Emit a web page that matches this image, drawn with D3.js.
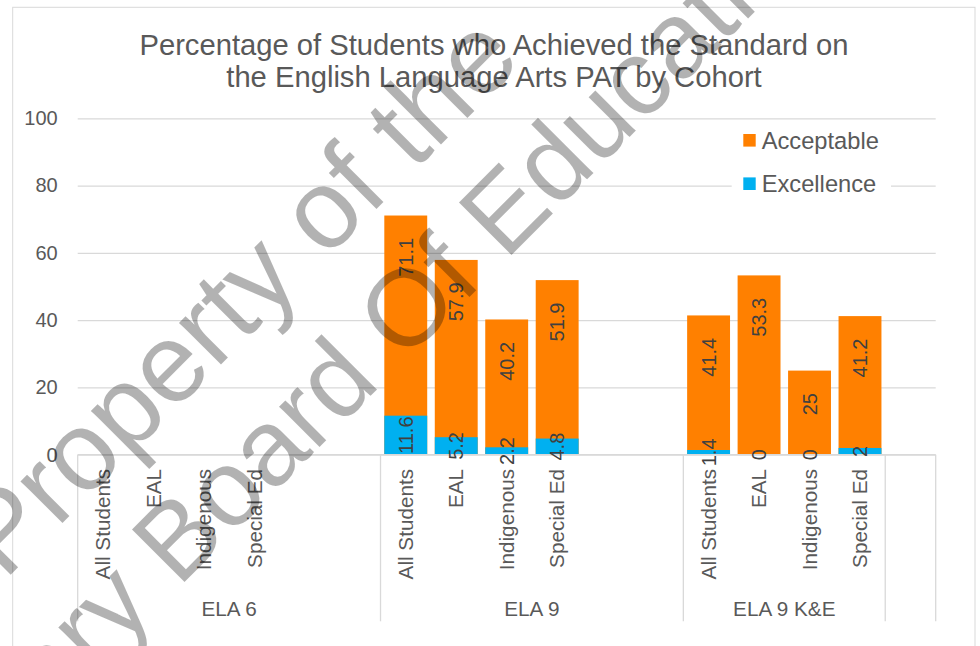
<!DOCTYPE html>
<html>
<head>
<meta charset="utf-8">
<script src="https://cdn.jsdelivr.net/npm/d3@7"></script>
<style>
  html, body { margin: 0; padding: 0; background: #fff; }
  svg { display: block; font-family: 'Liberation Sans', Arial, sans-serif; }
</style>
</head>
<body>
<div id="chart"></div>
<script>
const titleLines = ['Percentage of Students who Achieved the Standard on', 'the English Language Arts PAT by Cohort'];
const groups = ['ELA 6', 'ELA 9', 'ELA 9 K&E', ''];
const groupSizes = [6, 6, 4, 1];
const subLabels = [
  'All Students', 'EAL', 'Indigenous', 'Special Ed', '', '',
  'All Students', 'EAL', 'Indigenous', 'Special Ed', '', '',
  'All Students', 'EAL', 'Indigenous', 'Special Ed',
  ''
];
const acceptable = [
  null, null, null, null, null, null,
  71.1, 57.9, 40.2, 51.9, null, null,
  41.4, 53.3, 25, 41.2,
  null
];
const excellence = [
  null, null, null, null, null, null,
  11.6, 5.2, 2.2, 4.8, null, null,
  1.4, 0, 0, 2,
  null
];
const yTicks = [0, 20, 40, 60, 80, 100];
const seriesNames = ['Acceptable', 'Excellence'];
const seriesColors = ['#FF8000', '#00B0F0'];
const watermarkLines = ['Property of the', 'Calgary Board Of Education'];

const w = 980;
const h = 646;
const plotLeft = 77.7, plotRight = 935.7, plotTop = 118.3, plotBottom = 454.7;
const textColor = '#595959';
const gridColor = '#D9D9D9';

const svg = d3.select('#chart')
  .append('svg')
  .attr('width', w)
  .attr('height', h)
  .attr('viewBox', `0 0 ${w} ${h}`);

// chart frame
svg.append('rect')
  .attr('x', 12.7).attr('y', 7.3)
  .attr('width', 962.3).attr('height', 700)
  .attr('fill', '#fff')
  .attr('stroke', gridColor)
  .attr('stroke-width', 1);

svg.append('g')
  .selectAll('text')
  .data(titleLines)
  .enter()
  .append('text')
  .attr('x', 494)
  .attr('y', (d, i) => 55 + i * 32.3)
  .attr('text-anchor', 'middle')
  .attr('font-size', 29.2)
  .attr('fill', textColor)
  .text(d => d);

const x = d3.scaleBand()
  .domain(d3.range(subLabels.length))
  .range([plotLeft, plotRight])
  .paddingInner(0.15)
  .paddingOuter(0.075);

const y = d3.scaleLinear()
  .domain([0, 100])
  .range([plotBottom, plotTop]);

const yAxis = svg.append('g')
  .attr('transform', `translate(${plotLeft},0)`)
  .call(d3.axisLeft(y).tickValues(yTicks).tickSize(-(plotRight - plotLeft)).tickPadding(20));
yAxis.select('.domain').remove();
yAxis.selectAll('line').attr('stroke', gridColor).attr('stroke-width', 1.3);
yAxis.selectAll('text')
  .attr('font-size', 20)
  .attr('font-family', "'Liberation Sans', Arial, sans-serif")
  .attr('fill', textColor);

// legend box covers gridline
svg.append('rect')
  .attr('x', 731.7).attr('y', 121)
  .attr('width', 159.3).attr('height', 84)
  .attr('fill', '#fff');

const legend = svg.append('g')
  .selectAll('g')
  .data(seriesNames)
  .enter()
  .append('g')
  .attr('transform', (d, i) => `translate(743.3,${134 + i * 43.4})`);
legend.append('rect')
  .attr('width', 12.4).attr('height', 12.6)
  .attr('fill', (d, i) => seriesColors[i]);
legend.append('text')
  .attr('x', 18.4)
  .attr('y', 15)
  .attr('font-size', 23.7)
  .attr('fill', textColor)
  .text(d => d);

// bars
const idx = d3.range(subLabels.length);
svg.append('g')
  .selectAll('rect')
  .data(idx.filter(i => acceptable[i] != null))
  .enter()
  .append('rect')
  .attr('x', i => x(i))
  .attr('width', x.bandwidth())
  .attr('y', i => y(acceptable[i]))
  .attr('height', i => y(0) - y(acceptable[i]))
  .attr('fill', seriesColors[0]);

svg.append('g')
  .selectAll('rect')
  .data(idx.filter(i => excellence[i] != null))
  .enter()
  .append('rect')
  .attr('x', i => x(i))
  .attr('width', x.bandwidth())
  .attr('y', i => y(excellence[i]))
  .attr('height', i => y(0) - y(excellence[i]))
  .attr('fill', seriesColors[1]);

// category axis
svg.append('line')
  .attr('x1', plotLeft).attr('x2', plotRight)
  .attr('y1', plotBottom).attr('y2', plotBottom)
  .attr('stroke', gridColor).attr('stroke-width', 1.3);

const bounds = [0];
groupSizes.forEach(n => bounds.push(bounds[bounds.length - 1] + n));
const step = x.step();
const bx = k => plotLeft + k * step;

svg.append('g')
  .selectAll('line')
  .data(bounds)
  .enter()
  .append('line')
  .attr('x1', k => bx(k)).attr('x2', k => bx(k))
  .attr('y1', plotBottom).attr('y2', 621.3)
  .attr('stroke', gridColor).attr('stroke-width', 1.3);

svg.append('g')
  .selectAll('text')
  .data(idx.filter(i => subLabels[i] !== ''))
  .enter()
  .append('text')
  .attr('transform', i => `translate(${x(i) + x.bandwidth() / 2},469) rotate(-90)`)
  .attr('text-anchor', 'end')
  .attr('dy', '0.35em')
  .attr('font-size', 20.7)
  .attr('fill', textColor)
  .text(i => subLabels[i]);

svg.append('g')
  .selectAll('text')
  .data(groups)
  .enter()
  .append('text')
  .attr('x', (d, i) => (bx(bounds[i]) + bx(bounds[i + 1])) / 2)
  .attr('y', 616.3)
  .attr('text-anchor', 'middle')
  .attr('font-size', 20.7)
  .attr('fill', textColor)
  .text(d => d);

// value labels
svg.append('g')
  .selectAll('text')
  .data(idx.filter(i => acceptable[i] != null))
  .enter()
  .append('text')
  .attr('transform', i => `translate(${x(i) + x.bandwidth() / 2},${y(acceptable[i]) + 22.4}) rotate(-90)`)
  .attr('text-anchor', 'end')
  .attr('dy', '0.35em')
  .attr('font-size', 20)
  .attr('fill', '#404040')
  .text(i => acceptable[i]);

svg.append('g')
  .selectAll('text')
  .data(idx.filter(i => excellence[i] != null))
  .enter()
  .append('text')
  .attr('transform', i => `translate(${x(i) + x.bandwidth() / 2},${y(excellence[i] / 2)}) rotate(-90)`)
  .attr('text-anchor', 'middle')
  .attr('dy', '0.35em')
  .attr('font-size', 20)
  .attr('fill', '#404040')
  .text(i => excellence[i]);

// watermark
svg.append('g')
  .attr('transform', 'rotate(-45)')
  .selectAll('text')
  .data(watermarkLines)
  .enter()
  .append('text')
  .attr('x', (d, i) => [-408, -692][i])
  .attr('y', (d, i) => [414, 542][i])
  .attr('font-size', (d, i) => [112, 108][i])
  .attr('fill', '#000')
  .attr('fill-opacity', 0.3)
  .text(d => d);
</script>
</body>
</html>
